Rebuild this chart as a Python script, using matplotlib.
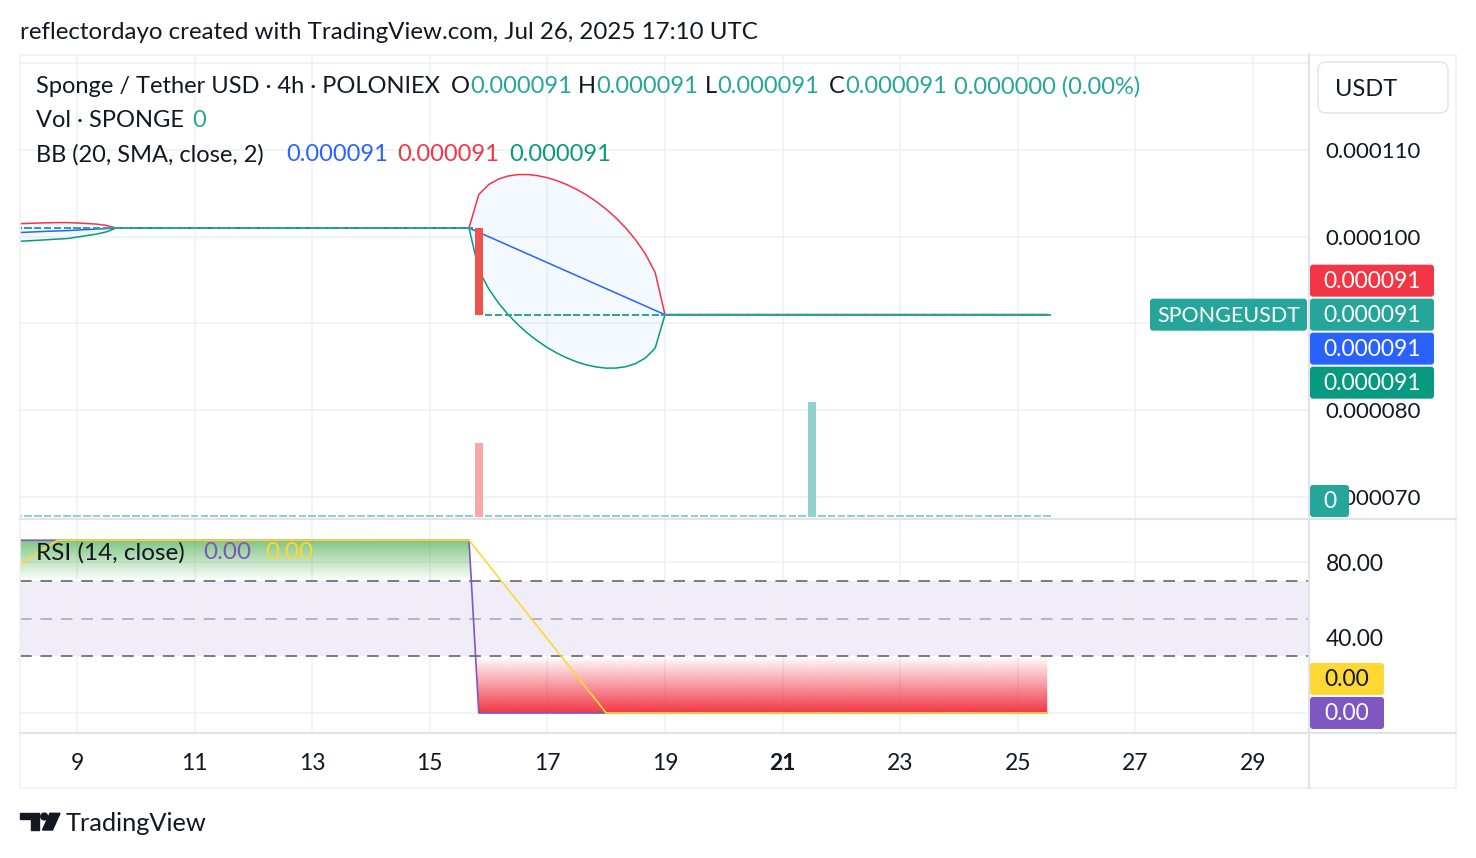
import numpy as np
import matplotlib
matplotlib.use("Agg")
import matplotlib.pyplot as plt
from matplotlib.colors import to_rgb
from matplotlib.lines import Line2D
from matplotlib.patches import FancyBboxPatch, Polygon, Circle
from matplotlib.text import Annotation
from matplotlib.transforms import IdentityTransform

plt.rcParams["font.family"] = ["Lato", "DejaVu Sans"]

W, H = 1476, 858
DARK = "#131722"
TEAL = "#26A69A"
RED = "#F23645"
BLUE = "#2962FF"
GREEN = "#089981"
PURPLE = "#7E57C2"
YELLOW = "#FDD835"
GRID = "#F0F1F4"
SEP = "#E0E3EB"

# ---- data: days of July 2025 (4h bars), prices in 1e-6 USDT ----
BAR = 1 / 6
flat_from = [8.0, 16.0]
flat_to = [15.667, 25.5]
flat_price = [101.0, 91.0]

drop_day = 15.833
drop_open = 101.0
drop_close = 91.0

vol_day = [15.833, 21.5]
vol_value = [64300, 100000]
vol_color = ["#F7A9A7", "#92D2CC"]

bb_day = [8.0, 8.167, 8.333, 8.5, 8.667, 8.833, 9.0, 9.167, 9.333, 9.5, 9.667,
          15.667, 15.833, 16.0, 16.167, 16.333, 16.5, 16.667, 16.833, 17.0, 17.167,
          17.333, 17.5, 17.667, 17.833, 18.0, 18.167, 18.333, 18.5, 18.667, 18.833,
          19.0, 25.5]
bb_upper = [101.50, 101.53, 101.57, 101.60, 101.62, 101.62, 101.58, 101.52, 101.45, 101.30, 101.0,
            101.0, 104.86, 106.0, 106.64, 107.0, 107.16, 107.17, 107.04, 106.80, 106.45,
            106.0, 105.45, 104.80, 104.04, 103.17, 102.16, 101.0, 99.64, 98.0, 95.86,
            91.0, 91.0]
bb_basis = [100.47, 100.52, 100.57, 100.62, 100.66, 100.70, 100.76, 100.82, 100.88, 100.93, 101.0,
            101.0, 100.5, 100.0, 99.5, 99.0, 98.5, 98.0, 97.5, 97.0, 96.5,
            96.0, 95.5, 95.0, 94.5, 94.0, 93.5, 93.0, 92.5, 92.0, 91.5,
            91.0, 91.0]
bb_lower = [99.45, 99.52, 99.58, 99.65, 99.72, 99.78, 99.95, 100.12, 100.30, 100.55, 101.0,
            101.0, 96.14, 94.0, 92.36, 91.0, 89.84, 88.83, 87.96, 87.20, 86.55,
            86.0, 85.55, 85.20, 84.96, 84.83, 84.84, 85.0, 85.36, 86.0, 87.14,
            91.0, 91.0]

rsi_day = [8.0, 15.667, 15.833, 25.5]
rsi_value = [91.7, 91.7, 0.0, 0.0]
rsi_ma_day = [8.0, 8.667, 15.667, 18.0, 25.5]
rsi_ma_value = [78.3, 91.7, 91.7, 0.0, 0.0]

day_ticks = [9, 11, 13, 15, 17, 19, 21, 23, 25, 27, 29]
price_ticks = [70, 80, 90, 100, 110, 120]
rsi_ticks = [0, 40, 80]


def fx(x):
    return x / W


def fy(y):
    return 1 - y / H


fig = plt.figure(figsize=(W / 100, H / 100), dpi=100)
fig.patch.set_facecolor("white")

ax = fig.add_axes([fx(20), fy(518), (1309 - 20) / W, (518 - 55) / H])
rsi = fig.add_axes([fx(20), fy(732), (1309 - 20) / W, (732 - 518) / H], sharex=ax)
vax = ax.twinx()

# ---- price pane ----
ax.fill_between(bb_day, bb_upper, bb_lower, color="#2196F3", alpha=0.05, lw=0, zorder=1)
ax.plot(bb_day, bb_basis, color=BLUE, lw=1.1, zorder=2)
ax.plot(bb_day, bb_upper, color=RED, lw=1.1, zorder=2)
ax.plot(bb_day, bb_lower, color=GREEN, lw=1.1, zorder=2)

all_bars = np.arange(flat_from[0], flat_to[-1] + 0.01, BAR)
for start, end, price in zip(flat_from, flat_to, flat_price):
    days = np.arange(start, end + 0.01, BAR)
    ax.hlines(np.full(len(days), price), days - 0.062, days + 0.062, color=TEAL, lw=1.4, zorder=3)
ax.bar(drop_day, drop_close - drop_open, bottom=drop_open, width=0.141, color="#EF5350", zorder=4)

ax.set_xlim(8.031, 29.952)
ax.set_ylim(67.54, 120.96)
ax.set_yticks(price_ticks)
ax.set_yticklabels(["" if v in (90, 120) else f"{v * 1e-6:.6f}" for v in price_ticks])
ax.yaxis.tick_right()
ax.tick_params(axis="y", length=0, pad=12, labelsize=16, labelcolor=DARK)
ax.tick_params(axis="x", length=0, labelbottom=False)
ax.grid(color=GRID, lw=1.2)
ax.set_axisbelow(True)
for s in ax.spines.values():
    s.set_visible(False)

# volume overlay
vol_top = max(vol_value) * (518 - 55) / 115
min_h = 2 / (518 - 55) * vol_top
vax.bar(all_bars, np.full(len(all_bars), min_h), width=0.13, color=vol_color[1], lw=0)
vax.bar(vol_day, vol_value, width=0.13, color=vol_color, lw=0)
vax.set_ylim(-min_h * 0.5, vol_top)
vax.axis("off")


# ---- RSI pane ----
def gradient_fill(axes, x, y, level, color, full):
    above = full > level
    where = [v > level for v in y] if above else [v < level for v in y]
    poly = axes.fill_between(x, y, level, where=where, interpolate=True, color="none", lw=0)
    lo, hi = sorted((level, full))
    img = np.zeros((256, 1, 4))
    img[:, 0, :3] = to_rgb(color)
    img[:, 0, 3] = np.linspace(0, 1, 256) if above else np.linspace(1, 0, 256)
    im = axes.imshow(img, extent=[x[0], x[-1], lo, hi], origin="lower", aspect="auto",
                     interpolation="bilinear", zorder=1)
    im.set_clip_path(poly.get_paths()[0], transform=axes.transData)


rsi.axhspan(30, 70, color=PURPLE, alpha=0.1, lw=0, zorder=0.5)
gradient_fill(rsi, rsi_day, rsi_value, 70, "#4CAF50", 100)
gradient_fill(rsi, rsi_day, rsi_value, 30, RED, 0)
rsi.axhline(70, color="#787B86", lw=1.4, ls=(0, (6, 4.5)), zorder=2)
rsi.axhline(50, color="#B2B5BE", lw=1.4, ls=(0, (6, 4.5)), zorder=2)
rsi.axhline(30, color="#787B86", lw=1.4, ls=(0, (6, 4.5)), zorder=2)
rsi.plot(rsi_day, rsi_value, color=PURPLE, lw=1.2, zorder=3)
rsi.plot(rsi_ma_day, rsi_ma_value, color=YELLOW, lw=1.2, zorder=4)

rsi.set_xlim(8.031, 29.952)
rsi.set_ylim(-10.1, 103.5)
rsi.set_yticks(rsi_ticks)
rsi.set_yticklabels(["" if v == 0 else f"{v:.2f}" for v in rsi_ticks])
rsi.yaxis.tick_right()
rsi.tick_params(axis="y", length=0, pad=12, labelsize=16.5, labelcolor=DARK)
rsi.set_xticks(day_ticks)
rsi.set_xticklabels([str(d) for d in day_ticks])
rsi.tick_params(axis="x", length=0, pad=15, labelsize=16.5, labelcolor=DARK)
for lbl, d in zip(rsi.get_xticklabels(), day_ticks):
    if d == 21:
        lbl.set_fontweight("bold")
rsi.grid(color=GRID, lw=1.2)
rsi.set_axisbelow(True)
for s in rsi.spines.values():
    s.set_visible(False)
ax.set_xlim(8.031, 29.952)


# ---- frame ----
def line_px(x0, y0, x1, y1, color, lw=1.0):
    fig.add_artist(Line2D([fx(x0), fx(x1)], [fy(y0), fy(y1)], color=color, lw=lw))


line_px(20, 55, 1456, 55, GRID, 1.2)
line_px(20, 788, 1456, 788, GRID, 1.2)
line_px(20, 55, 20, 788, GRID, 1.2)
line_px(1456, 55, 1456, 788, GRID, 1.2)
line_px(1309, 55, 1309, 788, SEP, 1.5)
line_px(20, 518.5, 1456, 518.5, SEP, 1.5)
line_px(20, 732.5, 1456, 732.5, SEP, 1.5)


# ---- tags on the scale ----
def tag(x0, x1, yc_disp, color, text, tcolor="white", size=16.5):
    fig.add_artist(FancyBboxPatch((x0, yc_disp - 16), x1 - x0, 32,
                                  boxstyle="round,pad=0,rounding_size=3",
                                  transform=IdentityTransform(), color=color, lw=0, zorder=5))
    fig.text((x0 + x1) / 2 / W, (yc_disp - 1) / H, text, ha="center", va="center",
             color=tcolor, fontsize=size, zorder=6)


close_last = flat_price[-1]
y_close = ax.transData.transform((10, close_last))[1]
last_txt = f"{close_last * 1e-6:.6f}"
tag(1310, 1434, y_close + 34, RED, f"{bb_upper[-1] * 1e-6:.6f}")
tag(1310, 1434, y_close, TEAL, last_txt)
tag(1150, 1307, y_close, TEAL, "SPONGEUSDT", size=15.5)
tag(1310, 1434, y_close - 34, BLUE, f"{bb_basis[-1] * 1e-6:.6f}")
tag(1310, 1434, y_close - 68, GREEN, f"{bb_lower[-1] * 1e-6:.6f}")
y_vol0 = max(vax.transData.transform((10, 0))[1], fy(518) * H + 17)
tag(1310, 1349, y_vol0, TEAL, "0")

y_rsi0 = rsi.transData.transform((10, rsi_value[-1]))[1]
tag(1310, 1384, y_rsi0, PURPLE, f"{rsi_value[-1]:.2f}")
tag(1310, 1384, y_rsi0 + 34, YELLOW, f"{rsi_ma_value[-1]:.2f}", DARK)

fig.add_artist(FancyBboxPatch((1318, H - 113), 130, 51, boxstyle="round,pad=0,rounding_size=8",
                              transform=IdentityTransform(), facecolor="white", edgecolor=SEP, lw=1))
fig.text(fx(1335), fy(89), "USDT", ha="left", va="center", color=DARK, fontsize=17)


# ---- legends ----
def text_run(x, y, parts, size=17):
    prev = None
    for s, color in parts:
        if prev is None:
            prev = fig.text(fx(x), fy(y + 1.5), s, color=color, fontsize=size, ha="left", va="center")
        else:
            prev = fig.add_artist(Annotation(s, xy=(1, 0), xycoords=prev, xytext=(0, 0),
                                             textcoords="offset points", color=color,
                                             fontsize=size, ha="left", va="bottom"))


fig.text(fx(20), fy(32.5), "reflectordayo created with TradingView.com, Jul 26, 2025 17:10 UTC",
         ha="left", va="center", color=DARK, fontsize=17.4)

text_run(36, 85, [("Sponge / Tether USD · 4h · POLONIEX", DARK)])
text_run(451, 85, [("O", DARK), (last_txt, TEAL)])
text_run(578, 85, [("H", DARK), (last_txt, TEAL)])
text_run(705, 85, [("L", DARK), (last_txt, TEAL)])
text_run(829, 85, [("C", DARK), (last_txt, TEAL)])
text_run(954, 85, [("0.000000 (0.00%)", TEAL)])
text_run(36, 119, [("Vol · SPONGE", DARK)])
text_run(192, 119, [("0", TEAL)])
text_run(36, 153, [("BB (20, SMA, close, 2)", DARK)])
text_run(286, 153, [(f"{bb_basis[-1] * 1e-6:.6f}", BLUE)])
text_run(397, 153, [(f"{bb_upper[-1] * 1e-6:.6f}", RED)])
text_run(509, 153, [(f"{bb_lower[-1] * 1e-6:.6f}", GREEN)])
text_run(36, 551, [("RSI (14, close)", DARK)], size=17.5)
text_run(203, 551, [(f"{rsi_value[-1]:.2f}", PURPLE)], size=17.5)
text_run(265, 551, [(f"{rsi_ma_value[-1]:.2f}", YELLOW)], size=17.5)

# ---- TradingView logo ----
logo = [Polygon([(20, H - 813.3), (39.3, H - 813.3), (39.3, H - 830), (30.7, H - 830),
                 (30.7, H - 819.3), (20, H - 819.3)], closed=True),
        Circle((44.2, H - 816.5), 3.4),
        Polygon([(50, H - 813.3), (60, H - 813.3), (52.5, H - 830), (42.5, H - 830)], closed=True)]
for p in logo:
    p.set_transform(IdentityTransform())
    p.set_color(DARK)
    fig.add_artist(p)
fig.text(fx(66), fy(823.5), "TradingView", ha="left", va="center", color=DARK, fontsize=18.3)

fig.savefig("out.png", dpi=100, facecolor="white")
